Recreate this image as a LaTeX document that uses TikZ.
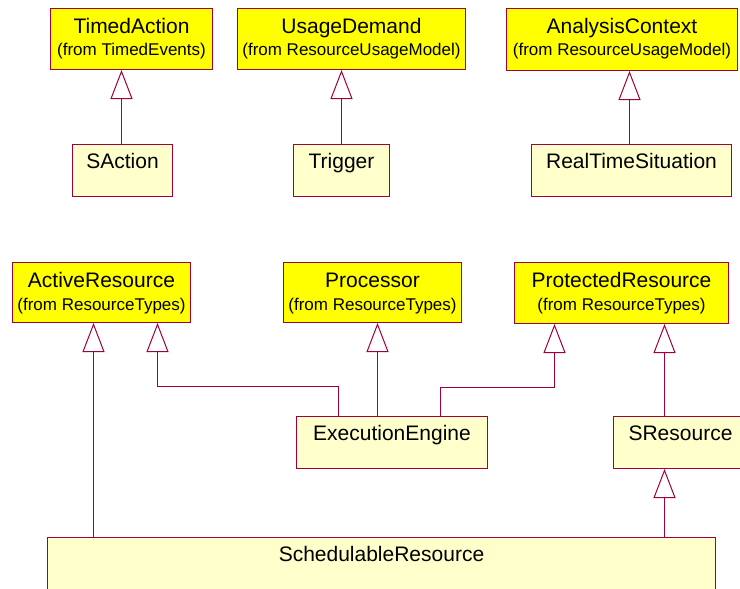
\documentclass[tikz,border=0pt]{standalone}
\usepackage{fontspec}
\setmainfont{Liberation Sans}
\usepackage{tikz}
\usetikzlibrary{arrows.meta}

\definecolor{umlred}{RGB}{160,0,60}
\definecolor{umlyellow}{RGB}{255,255,0}
\definecolor{umlcream}{RGB}{255,255,204}

\begin{document}
\begin{tikzpicture}[x=1pt,y=-1pt,
 ext/.style={draw=umlred,line width=1pt,fill=umlyellow,inner sep=0pt,anchor=north west},
 own/.style={draw=umlred,line width=1pt,fill=umlcream,inner sep=0pt,anchor=north west},
 ttl/.style={anchor=base,inner sep=0pt,font=\fontsize{21}{24}\selectfont},
 pkg/.style={anchor=base,inner sep=0pt,font=\fontsize{17}{19}\selectfont},
 gen/.style={-{Triangle[open,length=29pt,width=22pt]},draw=umlred,line width=1pt}
]
\useasboundingbox (0,0) rectangle (740,589);
\clip (0,0) rectangle (740,589);
% upper row
\node[ext,minimum width=162pt,minimum height=61pt] (timed) at (50,8) {};
\node[ttl] (timedT) at ([yshift=-25pt]timed.north) {TimedAction};
\node[pkg] (timedP) at ([yshift=-48pt]timed.north) {(from TimedEvents)};
\node[ext,minimum width=228pt,minimum height=61pt] (usage) at (237,8) {};
\node[ttl] (usageT) at ([yshift=-25pt]usage.north) {UsageDemand};
\node[pkg] (usageP) at ([yshift=-48pt]usage.north) {(from ResourceUsageModel)};
\node[ext,minimum width=231pt,minimum height=62pt] (analysis) at (506,8) {};
\node[ttl] (analysisT) at ([yshift=-25pt]analysis.north) {AnalysisContext};
\node[pkg] (analysisP) at ([yshift=-48pt]analysis.north) {(from ResourceUsageModel)};

\node[own,minimum width=100pt,minimum height=52pt] (saction) at (72,144) {};
\node[ttl] (sactionT) at ([yshift=-24pt]saction.north) {SAction};
\node[own,minimum width=96pt,minimum height=52pt] (trigger) at (293,144) {};
\node[ttl] (triggerT) at ([yshift=-24pt]trigger.north) {Trigger};
\node[own,minimum width=200pt,minimum height=52pt] (realtime) at (531,144) {};
\node[ttl] (realtimeT) at ([yshift=-24pt]realtime.north) {RealTimeSituation};

\draw[gen] ([xshift=-1pt]saction.north) -- ([xshift=-1pt]saction.north |- timed.south);
\draw[gen] (trigger.north) -- (trigger.north |- usage.south);
\draw[gen] ([xshift=-2pt]realtime.north) -- ([xshift=-2pt]realtime.north |- analysis.south);

% lower row
\node[ext,minimum width=178pt,minimum height=60pt] (active) at (12,262) {};
\node[ttl] (activeT) at ([yshift=-25pt]active.north) {ActiveResource};
\node[pkg] (activeP) at ([yshift=-48pt]active.north) {(from ResourceTypes)};
\node[ext,minimum width=178pt,minimum height=60pt] (processor) at (283,262) {};
\node[ttl] (processorT) at ([yshift=-25pt]processor.north) {Processor};
\node[pkg] (processorP) at ([yshift=-48pt]processor.north) {(from ResourceTypes)};
\node[ext,minimum width=214pt,minimum height=61pt] (protected) at (514,262) {};
\node[ttl] (protectedT) at ([yshift=-25pt]protected.north) {ProtectedResource};
\node[pkg] (protectedP) at ([yshift=-48pt]protected.north) {(from ResourceTypes)};

\node[own,minimum width=191pt,minimum height=52pt] (exec) at (296,416) {};
\node[ttl] (execT) at ([yshift=-24pt]exec.north) {ExecutionEngine};
\node[own,minimum width=134pt,minimum height=52pt] (sres) at (613,416) {};
\node[ttl] (sresT) at ([yshift=-24pt]sres.north) {SResource};
\node[own,minimum width=668pt,minimum height=70pt] (sched) at (47,537) {};
\node[ttl] (schedT) at ([yshift=-24pt]sched.north) {SchedulableResource};

\coordinate (activeA) at ([xshift=-8pt]active.south);
\coordinate (activeB) at ([xshift=56pt]active.south);
\coordinate (protA) at ([xshift=-67pt]protected.south);
\coordinate (protB) at ([xshift=43pt]protected.south);
\draw[gen] (activeA |- sched.north) -- (activeA);
\draw[gen] ([xshift=-53.5pt]exec.north) |- ([yshift=-63pt]activeB) -- (activeB);
\draw[gen] ([xshift=-14.5pt]exec.north) -- ([xshift=-14.5pt]exec.north |- processor.south);
\draw[gen] ([xshift=48.5pt]exec.north) |- ([yshift=-63pt]protA) -- (protA);
\draw[gen] (protB |- sres.north) -- (protB);
\draw[gen] (protB |- sched.north) -- (protB |- sres.south);
\end{tikzpicture}
\end{document}
